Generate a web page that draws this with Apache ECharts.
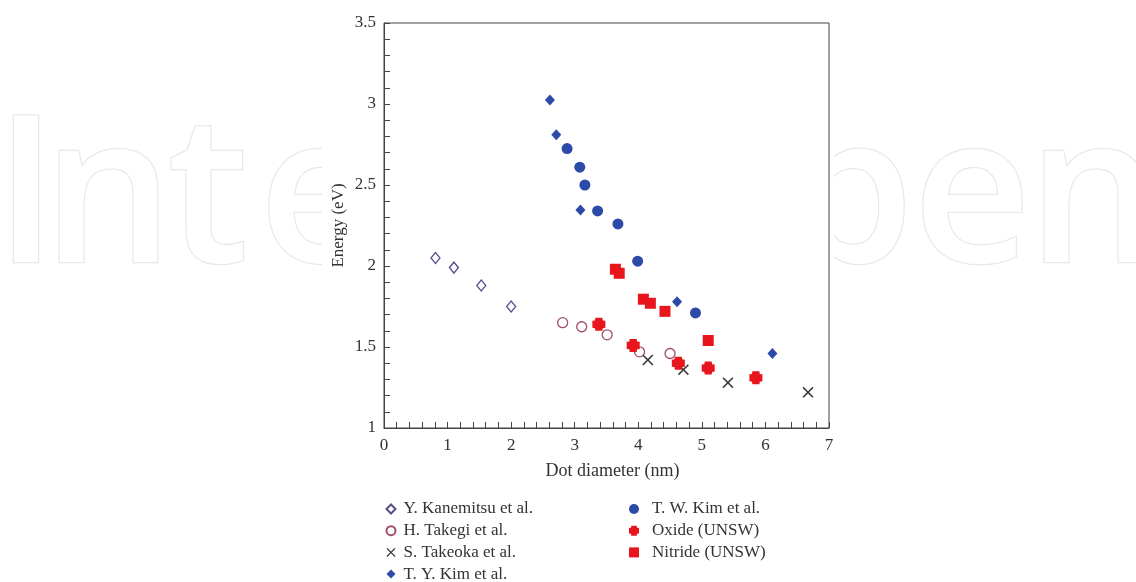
<!DOCTYPE html>
<html>
<head>
<meta charset="utf-8">
<script src="https://cdn.jsdelivr.net/npm/echarts@6/dist/echarts.min.js"></script>
<style>
html,body{margin:0;padding:0;background:#fff;}
#chart{width:1136px;height:582px;}
</style>
</head>
<body>
<div id="chart"></div>
<script>
// ---- data ----
const seriesNames = ['Y. Kanemitsu et al.', 'H. Takegi et al.', 'S. Takeoka et al.', 'T. Y. Kim et al.', 'T. W. Kim et al.', 'Oxide (UNSW)', 'Nitride (UNSW)'];
const kanemitsuX = [0.81, 1.10, 1.53, 2.00];
const kanemitsuY = [2.05, 1.99, 1.88, 1.75];
const takegiX = [2.81, 3.11, 3.51, 4.02, 4.50];
const takegiY = [1.65, 1.625, 1.575, 1.47, 1.46];
const takeokaX = [4.15, 4.71, 5.41, 6.67];
const takeokaY = [1.42, 1.36, 1.28, 1.22];
const tyKimX = [2.61, 2.71, 3.09, 4.61, 6.11];
const tyKimY = [3.025, 2.81, 2.345, 1.78, 1.46];
const twKimX = [2.88, 3.08, 3.16, 3.36, 3.68, 3.99, 4.90];
const twKimY = [2.725, 2.61, 2.50, 2.34, 2.26, 2.03, 1.71];
const oxideX = [3.38, 3.92, 4.63, 5.10, 5.85];
const oxideY = [1.64, 1.51, 1.40, 1.37, 1.31];
const nitrideX = [3.64, 3.70, 4.08, 4.19, 4.42, 5.10];
const nitrideY = [1.98, 1.955, 1.795, 1.77, 1.72, 1.54];
const xTicks = [0, 1, 2, 3, 4, 5, 6, 7];
const yTicks = [1, 1.5, 2, 2.5, 3, 3.5];

function pairs(xs, ys) { return xs.map((x, i) => [x, ys[i]]); }

const BLUE = '#2c4aa8';
const RED = '#e8161c';
const SERIF = '"Liberation Serif","DejaVu Serif",serif';
const crossPath = 'path://M0,1 L1,0 L5,4 L9,0 L10,1 L6,5 L10,9 L9,10 L5,6 L1,10 L0,9 L4,5 Z';
const plusPath = 'path://M2.3,0 H7.7 L8,2 L10,2.3 V7.7 L8,8 L7.7,10 H2.3 L2,8 L0,7.7 V2.3 L2,2 Z';

const styles = [
  { symbol: 'diamond', size: [9, 11], itemStyle: { color: '#ffffff', borderColor: '#574d8c', borderWidth: 1.3, opacity: 1 } },
  { symbol: 'circle', size: 10, itemStyle: { color: '#ffffff', borderColor: '#a24e66', borderWidth: 1.3, opacity: 1 } },
  { symbol: crossPath, size: 11, itemStyle: { color: '#3a3a3a', opacity: 1 } },
  { symbol: 'diamond', size: [10, 11], itemStyle: { color: BLUE, opacity: 1 } },
  { symbol: 'circle', size: 11, itemStyle: { color: BLUE, opacity: 1 } },
  { symbol: plusPath, size: 13, itemStyle: { color: RED, opacity: 1 } },
  { symbol: 'rect', size: 11, itemStyle: { color: RED, opacity: 1 } }
];
const dataSets = [
  pairs(kanemitsuX, kanemitsuY), pairs(takegiX, takegiY), pairs(takeokaX, takeokaY),
  pairs(tyKimX, tyKimY), pairs(twKimX, twKimY), pairs(oxideX, oxideY), pairs(nitrideX, nitrideY)
];

const series = seriesNames.map((name, i) => ({
  name: name,
  type: 'scatter',
  data: dataSets[i],
  symbol: styles[i].symbol,
  symbolSize: styles[i].size,
  itemStyle: styles[i].itemStyle,
  emphasis: { disabled: true },
  z: 3
}));

// faint watermark letters
const WM = { fill: '#ffffff', stroke: '#e8e8e8', lineWidth: 2.5, font: '600 205px "Open Sans"', align: 'center', verticalAlign: 'middle' };
const wmLetters = [['I', 26], ['n', 108], ['t', 208], ['e', 318], ['p', 850], ['e', 972], ['n', 1093]];
const graphic = wmLetters.map(([ch, cx]) => ({
  type: 'text', x: cx, y: 204, z: -10, silent: true,
  style: Object.assign({ text: ch }, WM)
}));
graphic.push({ type: 'rect', shape: { x: 322, y: 0, width: 512, height: 470 }, style: { fill: '#ffffff' }, z: -5, silent: true });

const legendText = { fontFamily: SERIF, fontSize: 17, color: '#333', lineHeight: 17 };

const option = {
  backgroundColor: '#ffffff',
  animation: false,
  graphic: graphic,
  grid: { left: 384, top: 23, width: 445, height: 405, show: true, borderColor: '#444', borderWidth: 1, backgroundColor: 'transparent' },
  xAxis: {
    type: 'value', min: 0, max: 7, interval: 1,
    name: 'Dot diameter (nm)', nameLocation: 'middle', nameGap: 34,
    nameTextStyle: { fontFamily: SERIF, fontSize: 18, color: '#333', padding: [0, 0, 0, 12] },
    axisLine: { show: true, lineStyle: { color: '#444', width: 1 } },
    axisTick: { show: true, inside: true, length: 6, lineStyle: { color: '#444' } },
    minorTick: { show: true, splitNumber: 5, length: 6, lineStyle: { color: '#444' } },
    splitLine: { show: false },
    axisLabel: { fontFamily: SERIF, fontSize: 17, color: '#333', margin: 9, formatter: v => xTicks.includes(v) ? String(v) : '' }
  },
  yAxis: {
    type: 'value', min: 1, max: 3.5, interval: 0.5,
    name: 'Energy (eV)', nameLocation: 'middle', nameGap: 37, nameRotate: 90,
    nameTextStyle: { fontFamily: SERIF, fontSize: 17, color: '#333' },
    axisLine: { show: true, lineStyle: { color: '#444', width: 1 } },
    axisTick: { show: true, inside: true, length: 6, lineStyle: { color: '#444' } },
    minorTick: { show: true, splitNumber: 5, length: 6, lineStyle: { color: '#444' } },
    splitLine: { show: false },
    axisLabel: { fontFamily: SERIF, fontSize: 17, color: '#333', margin: 8, formatter: v => yTicks.includes(v) ? String(v) : '' }
  },
  legend: [
    { data: seriesNames.slice(0, 4), orient: 'vertical', left: 385.5, top: 500.5, height: 120, padding: 0, itemWidth: 9, itemHeight: 9, itemGap: 4.7,
      textStyle: Object.assign({ padding: [0, 0, 0, 3] }, legendText), selectedMode: false },
    { data: seriesNames.slice(4), orient: 'vertical', left: 629, top: 500.5, height: 120, padding: 0, itemWidth: 10, itemHeight: 10, itemGap: 4.7,
      textStyle: Object.assign({ padding: [0, 0, 0, 8] }, legendText), selectedMode: false }
  ],
  series: series
};

const chart = echarts.init(document.getElementById('chart'), null, { renderer: 'canvas' });
chart.setOption(option);
</script>
</body>
</html>
